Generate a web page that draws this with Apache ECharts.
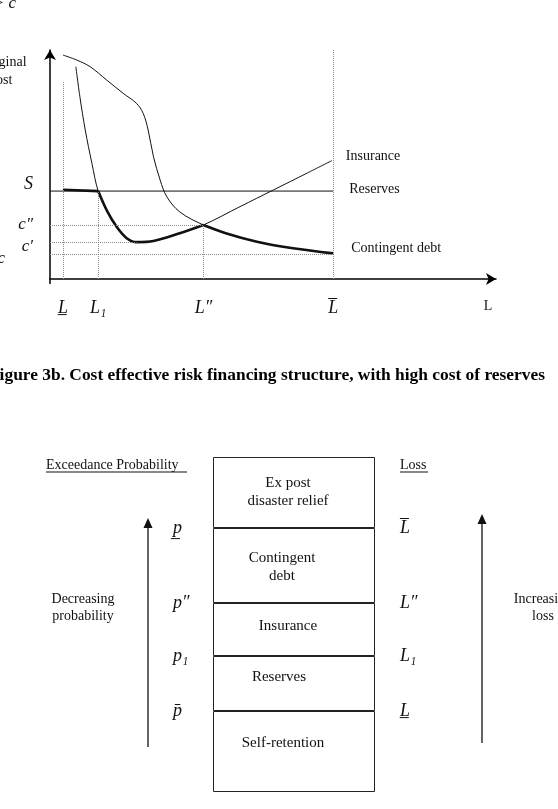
<!DOCTYPE html>
<html>
<head>
<meta charset="utf-8">
<title>Cost effective risk financing structure</title>
<script src="https://cdn.jsdelivr.net/npm/echarts@6/dist/echarts.min.js"></script>
<style>
  html, body { margin: 0; padding: 0; background: #fff; }
  #chart { width: 558px; height: 809px; }
</style>
</head>
<body>
<div id="chart"></div>
<script>
// top panel: marginal cost against loss, both on a 0-100 scale
var contingentDebt = [[2.9, 97.8], [6.0, 95.6], [9.0, 92.7], [12.7, 86.9], [16.4, 81.1], [19.4, 76.7], [20.9, 72.3], [22.0, 65.1], [23.2, 53.4], [24.7, 43.2], [26.2, 35.9], [29.1, 29.3], [34.4, 23.6], [39.6, 19.9], [46.4, 16.3], [54.5, 13.4], [63.5, 11.2]];
var insurance = [[5.8, 92.7], [6.7, 79.6], [7.9, 65.1], [9.4, 50.5], [10.8, 38.4], [12.7, 30.1], [14.9, 22.9], [17.2, 17.8], [19.4, 16.1], [23.2, 16.6], [29.1, 20.0], [34.4, 23.6], [42.6, 31.6], [50.1, 38.9], [57.6, 46.2], [63.2, 51.7]];
var reserveLevel = 38.4;
var lossMarks = [2.9, 10.8, 34.4, 63.5];      // L_, L1, L'', L-bar
var lossLabels = ['L\u0332', 'L\u2081', 'L\u2033', 'L\u0305'];
var costMarks = [38.4, 23.6, 16.2, 10.9];     // S, c'', c', c
var costLabels = ['S', 'c\u2033', 'c\u2032', 'c'];
var axisEndLabel = 98.2;

// bottom panel: layers of the structure, from bottom to top
var layerNames = ['Self-retention', 'Reserves', 'Insurance', 'Contingent debt', 'Ex post disaster relief'];
var layerText = ['Self-retention', 'Reserves', 'Insurance', 'Contingent\ndebt', 'Ex post\ndisaster relief'];
var layerHeights = [81, 55, 53, 75, 71];
var probLabels = ['p\u0304', 'p\u2081', 'p\u2033', 'p\u0332'];
var layerLossLabels = ['L\u0332', 'L\u2081', 'L\u2033', 'L\u0305'];

var serif = 'Liberation Serif';
var ink = '#111';

var bounds = [];
var acc = 0;
for (var i = 0; i < layerHeights.length - 1; i++) {
	acc += layerHeights[i];
	bounds.push(acc);
}
var layerTotal = acc + layerHeights[layerHeights.length - 1];

function pick(values, labels, v) {
	for (var k = 0; k < values.length; k++) {
		if (Math.abs(values[k] - v) < 0.01) return labels[k];
	}
	return '';
}

var guide = { color: '#8a8a8a', type: 'dotted', width: 1 };

var series = [
	{
		name: 'Contingent debt', type: 'line', data: contingentDebt,
		smooth: 0.35, showSymbol: false, silent: true,
		lineStyle: { color: ink, width: 1 },
		endLabel: { show: true, formatter: 'Contingent debt', offset: [10, -5], fontFamily: serif, fontSize: 14, color: ink }
	},
	{
		name: 'Insurance', type: 'line', data: insurance,
		smooth: 0.35, showSymbol: false, silent: true,
		lineStyle: { color: ink, width: 1 },
		endLabel: { show: true, formatter: 'Insurance', offset: [6, -4], fontFamily: serif, fontSize: 14, color: ink }
	},
	{
		name: 'Reserves', type: 'line', data: [[0, reserveLevel], [lossMarks[3], reserveLevel]],
		showSymbol: false, silent: true,
		lineStyle: { color: ink, width: 1 },
		endLabel: { show: true, formatter: 'Reserves', offset: [8, -2], fontFamily: serif, fontSize: 14, color: ink }
	},
	// cost effective structure (bold)
	{
		type: 'line', showSymbol: false, silent: true,
		data: [[lossMarks[0], reserveLevel + 0.6], [lossMarks[1], reserveLevel]],
		lineStyle: { color: ink, width: 2.6 }
	},
	{
		type: 'line', showSymbol: false, silent: true, smooth: 0.35,
		data: insurance.filter(function(p) { return p[0] >= lossMarks[1] && p[0] <= lossMarks[2]; }),
		lineStyle: { color: ink, width: 2.6 }
	},
	{
		type: 'line', showSymbol: false, silent: true, smooth: 0.35,
		data: contingentDebt.filter(function(p) { return p[0] >= lossMarks[2]; }),
		lineStyle: { color: ink, width: 2.6 }
	},
	// dotted guides
	{
		type: 'line', data: [], silent: true,
		markLine: {
			silent: true, symbol: ['none', 'none'], label: { show: false },
			lineStyle: guide, animation: false,
			data: [
				[{ coord: [lossMarks[0], 0] }, { coord: [lossMarks[0], 86] }],
				[{ coord: [lossMarks[1], 0] }, { coord: [lossMarks[1], reserveLevel] }],
				[{ coord: [lossMarks[2], 0] }, { coord: [lossMarks[2], costMarks[1]] }],
				[{ coord: [lossMarks[3], 0] }, { coord: [lossMarks[3], 100] }],
				[{ coord: [0, costMarks[1]] }, { coord: [lossMarks[2], costMarks[1]] }],
				[{ coord: [0, costMarks[2]] }, { coord: [19.4, costMarks[2]] }],
				[{ coord: [0, costMarks[3]] }, { coord: [lossMarks[3], costMarks[3]] }]
			]
		}
	}
];

var labelOffsets = [[-11, -8], [-15, -6], [-6, -3], [-12, 2], [-6, 0]];
layerHeights.forEach(function(h, idx) {
	series.push({
		name: layerNames[idx], type: 'bar', stack: 'layers',
		xAxisIndex: 1, yAxisIndex: 1, barWidth: '100%', silent: true,
		data: [h],
		itemStyle: { color: '#fff', borderColor: '#222', borderWidth: 1 },
		label: {
			show: true, position: 'inside', formatter: layerText[idx],
			offset: labelOffsets[idx], color: ink,
			fontFamily: serif, fontSize: 15, lineHeight: 18
		}
	});
});

var myChart = echarts.init(document.getElementById('chart'));

var option = {
	animation: false,
	backgroundColor: '#fff',
	grid: [
		{ left: 50, top: 50, width: 446, height: 233.6, containLabel: false, outerBoundsMode: 'none' },
		{ left: 213, top: 457, width: 162, height: 335, containLabel: false, outerBoundsMode: 'none' }
	],
	xAxis: [
		{
			gridIndex: 0, type: 'value', min: 0, max: 100,
			splitLine: { show: false }, axisTick: { show: false },
			axisLine: { onZero: true, symbol: ['none', 'arrow'], symbolSize: [9, 10], lineStyle: { color: '#000', width: 1.5 } },
			axisLabel: {
				customValues: lossMarks.concat([axisEndLabel]),
				margin: 16,
				formatter: function(v) {
					if (Math.abs(v - axisEndLabel) < 0.01) return '{n|L}';
					return '{m|' + pick(lossMarks, lossLabels, v) + '}';
				},
				rich: {
					m: { fontFamily: serif, fontStyle: 'italic', fontSize: 18, color: ink },
					n: { fontFamily: serif, fontSize: 14, color: ink, padding: [0, 0, 4, 0] }
				}
			}
		},
		{ gridIndex: 1, type: 'category', data: ['layers'], show: false }
	],
	yAxis: [
		{
			gridIndex: 0, type: 'value', min: -2, max: 100,
			splitLine: { show: false }, axisTick: { show: false },
			axisLine: { onZero: false, symbol: ['none', 'arrow'], symbolSize: [9, 10], lineStyle: { color: '#000', width: 1.5 } },
			axisLabel: {
				customValues: costMarks,
				margin: 17,
				formatter: function(v) {
					var t = pick(costMarks, costLabels, v);
					if (t === 'S') return '{s|S}';
					if (t === 'c') return '{far|c}';
					if (t === 'c\u2032') return '{lo|' + t + '}';
					return '{m|' + t + '}';
				},
				rich: {
					m: { fontFamily: serif, fontStyle: 'italic', fontSize: 17, color: ink },
					s: { fontFamily: serif, fontStyle: 'italic', fontSize: 18, color: ink, padding: [0, 0, 14, 0] },
					lo: { fontFamily: serif, fontStyle: 'italic', fontSize: 17, color: ink, padding: [10, 0, 0, 0] },
					far: { fontFamily: serif, fontStyle: 'italic', fontSize: 17, color: ink, padding: [8, 28, 0, 0] }
				}
			}
		},
		{
			gridIndex: 1, type: 'value', min: 0, max: layerTotal, position: 'left',
			splitLine: { show: false }, axisTick: { show: false }, axisLine: { show: false },
			axisLabel: {
				customValues: bounds, margin: 40, align: 'left',
				fontFamily: serif, fontStyle: 'italic', fontSize: 18, color: ink,
				formatter: function(v) { return pick(bounds, probLabels, v); }
			}
		},
		{
			gridIndex: 1, type: 'value', min: 0, max: layerTotal, position: 'right',
			splitLine: { show: false }, axisTick: { show: false }, axisLine: { show: false },
			axisLabel: {
				customValues: bounds, margin: 25, align: 'left',
				fontFamily: serif, fontStyle: 'italic', fontSize: 18, color: ink,
				formatter: function(v) { return pick(bounds, layerLossLabels, v); }
			}
		}
	],
	graphic: [
		{ type: 'text', x: 16, y: 4, style: { text: 'c\u0302 > c', align: 'right', verticalAlign: 'middle', font: 'italic 17px "Liberation Serif"', fill: ink } },
		{ type: 'text', x: 1, y: 71, style: { text: 'Marginal\ncost', align: 'center', verticalAlign: 'middle', font: '14px "Liberation Serif"', lineHeight: 18, fill: ink } },
		{ type: 'text', x: -11, y: 376, style: { text: 'Figure 3b. Cost effective risk financing structure, with high cost of reserves', verticalAlign: 'middle', font: 'bold 17.4px "Liberation Serif"', fill: '#000' } },
		{ type: 'text', x: 46, y: 465, style: { text: 'Exceedance Probability', verticalAlign: 'middle', font: '14px "Liberation Serif"', fill: ink } },
		{ type: 'line', shape: { x1: 46, y1: 472, x2: 187, y2: 472 }, style: { stroke: ink, lineWidth: 1 } },
		{ type: 'text', x: 400, y: 465, style: { text: 'Loss', verticalAlign: 'middle', font: '14px "Liberation Serif"', fill: ink } },
		{ type: 'line', shape: { x1: 400, y1: 472, x2: 428, y2: 472 }, style: { stroke: ink, lineWidth: 1 } },
		{ type: 'text', x: 83, y: 608, style: { text: 'Decreasing\nprobability', align: 'center', verticalAlign: 'middle', font: '14px "Liberation Serif"', lineHeight: 17, fill: ink } },
		{ type: 'text', x: 543, y: 608, style: { text: 'Increasing\nloss', align: 'center', verticalAlign: 'middle', font: '14px "Liberation Serif"', lineHeight: 17, fill: ink } },
		{ type: 'line', shape: { x1: 148, y1: 747, x2: 148, y2: 526 }, style: { stroke: ink, lineWidth: 1.3 } },
		{ type: 'polygon', shape: { points: [[148, 518], [143.5, 528], [152.5, 528]] }, style: { fill: ink } },
		{ type: 'line', shape: { x1: 482, y1: 743, x2: 482, y2: 522 }, style: { stroke: ink, lineWidth: 1.3 } },
		{ type: 'polygon', shape: { points: [[482, 514], [477.5, 524], [486.5, 524]] }, style: { fill: ink } }
	],
	series: series
};

myChart.setOption(option);

window.addEventListener('resize', function() {
	myChart.resize();
});
</script>
</body>
</html>
